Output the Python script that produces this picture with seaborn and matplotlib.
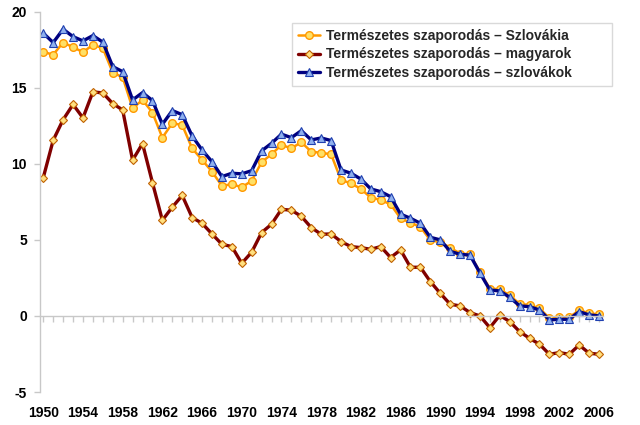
import matplotlib
matplotlib.use("Agg")
import matplotlib.pyplot as plt
import seaborn as sns
import pandas as pd
import numpy as np

years = list(range(1950, 2007))

szlovakia = [17.35, 17.18, 17.97, 17.67, 17.34, 17.82, 17.6, 16.0, 15.69, 13.65,
             14.2, 13.37, 11.72, 12.67, 12.55, 11.02, 10.26, 9.49, 8.55, 8.66,
             8.46, 8.88, 10.11, 10.63, 11.24, 11.02, 11.42, 10.8, 10.72, 10.63,
             8.94, 8.72, 8.35, 7.78, 7.63, 7.33, 6.42, 6.13, 5.85, 4.98,
             4.85, 4.49, 4.1, 4.05, 2.9, 1.8, 1.75, 1.35, 0.79, 0.72,
             0.5, -0.15, -0.1, -0.1, 0.39, 0.17, 0.1]

magyarok = [9.09, 11.55, 12.9, 13.9, 13.02, 14.73, 14.66, 13.96, 13.54, 10.24,
            11.33, 8.77, 6.29, 7.15, 7.92, 6.47, 6.09, 5.39, 4.71, 4.56,
            3.46, 4.19, 5.48, 6.03, 7.01, 6.95, 6.55, 5.81, 5.37, 5.39,
            4.89, 4.56, 4.49, 4.38, 4.56, 3.84, 4.34, 3.2, 3.2, 2.26,
            1.49, 0.77, 0.66, 0.22, 0.0, -0.77, 0.04, -0.37, -1.03, -1.47,
            -1.86, -2.52, -2.41, -2.52, -1.91, -2.45, -2.52]

szlovakok = [18.59, 17.97, 18.85, 18.36, 18.08, 18.43, 18.0, 16.39, 16.06, 14.2,
             14.68, 14.16, 12.6, 13.5, 13.23, 11.83, 10.91, 10.14, 9.16, 9.38,
             9.34, 9.55, 10.85, 11.35, 11.95, 11.72, 12.18, 11.57, 11.7, 11.53,
             9.6, 9.38, 9.0, 8.35, 8.17, 7.84, 6.69, 6.42, 6.09, 5.17,
             5.0, 4.25, 4.05, 4.0, 2.83, 1.71, 1.64, 1.23, 0.66, 0.61,
             0.39, -0.26, -0.22, -0.22, 0.28, 0.07, 0.0]

labels = ["Természetes szaporodás – Szlovákia",
          "Természetes szaporodás – magyarok",
          "Természetes szaporodás – szlovákok"]

yticks = [-5, 0, 5, 10, 15, 20]
xticks = list(range(1950, 2007, 4))

sns.set_theme(style="white")
plt.rcParams['font.family'] = ['Liberation Sans', 'DejaVu Sans']

fig = plt.figure(figsize=(6.4, 4.25), dpi=100)
ax = fig.add_axes([39.5/640, 33/425, (603-39.5)/640, (392-11.7)/425])

df = pd.DataFrame({"year": years, "s": szlovakia, "m": magyarok, "k": szlovakok})

styles = [
    ("s", labels[0], dict(color="#FF9900", marker="o", markersize=5.5,
                          markerfacecolor="#FFE066", markeredgecolor="#FF9900",
                          markeredgewidth=1.0, linewidth=1.8)),
    ("m", labels[1], dict(color="#800000", marker="D", markersize=4.0,
                          markerfacecolor="#FFE080", markeredgecolor="#C06000",
                          markeredgewidth=0.8, linewidth=2.4)),
    ("k", labels[2], dict(color="#000080", marker="^", markersize=5.5,
                          markerfacecolor="#8FB0EE", markeredgecolor="#2040B0",
                          markeredgewidth=0.8, linewidth=2.4)),
]
for col, lab, kw in styles:
    sns.lineplot(data=df, x="year", y=col, ax=ax, label=lab, **kw)

ax.set_xlim(1949.62, 2006.4)
ax.set_ylim(-5, 20)
ax.set_xlabel("")
ax.set_ylabel("")

for side in ["top", "right"]:
    ax.spines[side].set_visible(False)
ax.spines["left"].set_color("#C8C8C8")
ax.spines["left"].set_linewidth(1.0)
ax.spines["bottom"].set_position(("data", 0))
ax.spines["bottom"].set_color("#C8C8C8")
ax.spines["bottom"].set_linewidth(1.0)

ax.set_yticks(yticks)
ax.set_yticklabels([str(v) for v in yticks], fontweight="bold", fontsize=10)
ax.tick_params(axis="y", direction="out", length=4, color="#C8C8C8", width=1, pad=5, labelcolor="black", left=True)

ax.set_xticks(xticks)
ax.set_xticks(years, minor=True)
ax.set_xticklabels([str(v) for v in xticks], fontweight="bold", fontsize=10)
ax.tick_params(axis="x", which="both", direction="out", length=4, color="#C8C8C8", width=1, bottom=True)
ax.tick_params(axis="x", which="major", pad=61, labelcolor="black")

x0, x1 = 292/640, 612/640
ytop = (425-23)/425
leg = ax.legend(loc="upper left", bbox_to_anchor=(x0, ytop, x1 - x0, 0.0001),
                bbox_transform=fig.transFigure, mode="expand", frameon=True, fancybox=False,
                prop={"weight": "bold", "size": 10}, handlelength=1.6,
                borderpad=0.45, labelspacing=0.3, handletextpad=0.4, borderaxespad=0)
leg.get_frame().set_edgecolor("#D0D0D0")
leg.get_frame().set_linewidth(1.0)

fig.savefig("out.png", dpi=100)
